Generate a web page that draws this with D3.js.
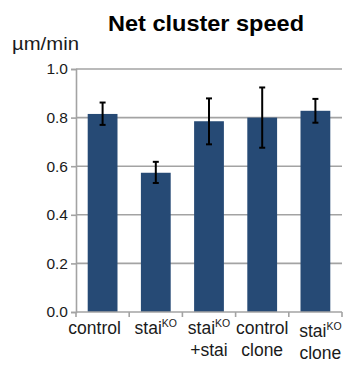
<!DOCTYPE html>
<html>
<head>
<meta charset="utf-8">
<script src="https://cdn.jsdelivr.net/npm/d3@7"></script>
<style>
  html, body { margin: 0; padding: 0; background: #fff; }
  svg { display: block; font-family: Arial, "Liberation Sans", sans-serif; }
</style>
</head>
<body>
<svg id="chart" width="347" height="365"></svg>
<script>
// Net cluster speed per condition (µm/min), mean with error bar ends
const categories = ["control", "staiKO", "staiKO+stai", "control clone", "staiKO clone"];
const speeds     = [0.815, 0.573, 0.785, 0.800, 0.828];
const errLow     = [0.770, 0.531, 0.690, 0.676, 0.779];
const errHigh    = [0.862, 0.618, 0.879, 0.924, 0.877];
const yTicks     = [0.0, 0.2, 0.4, 0.6, 0.8, 1.0];
// Label lines: [text, superscript] pairs per line
const labelLines = [
  [["control", ""]],
  [["stai", "KO"]],
  [["stai", "KO"], ["+stai", ""]],
  [["control", ""], ["clone", ""]],
  [["stai", "KO"], ["clone", ""]]
];

const svg = d3.select("#chart");
const plotLeft = 76, plotRight = 342, plotTop = 69, plotBottom = 312;

const x = d3.scaleBand().domain(categories).range([plotLeft, plotRight])
  .paddingInner(0.44).paddingOuter(0.22);
const y = d3.scaleLinear().domain([0, 1]).range([plotBottom, plotTop]);

const gridColor = "#a3a3a3";

// horizontal gridlines
svg.append("g").selectAll("line").data(yTicks.filter(d => d > 0)).join("line")
  .attr("x1", plotLeft).attr("x2", plotRight)
  .attr("y1", d => y(d)).attr("y2", d => y(d))
  .attr("stroke", gridColor).attr("stroke-width", 1.6);

// y axis
const yAxis = d3.axisLeft(y).tickValues(yTicks).tickFormat(d3.format(".1f"))
  .tickSize(5).tickPadding(3);
const gy = svg.append("g").attr("transform", `translate(${plotLeft},0)`).call(yAxis);
gy.select(".domain").attr("stroke", gridColor).attr("stroke-width", 1.6);
gy.selectAll(".tick line").attr("stroke", gridColor).attr("stroke-width", 1.6);
gy.selectAll(".tick text").attr("font-size", 15.5).attr("fill", "#1a1a1a")
  .attr("font-family", "Arial, 'Liberation Sans', sans-serif");

// bars
svg.append("g").selectAll("rect").data(categories).join("rect")
  .attr("x", d => x(d)).attr("width", x.bandwidth())
  .attr("y", (d, i) => y(speeds[i]))
  .attr("height", (d, i) => y(0) - y(speeds[i]))
  .attr("fill", "#264a75");

// x axis with tick marks at category boundaries
const gx = svg.append("g");
gx.append("line").attr("x1", plotLeft).attr("x2", plotRight)
  .attr("y1", y(0)).attr("y2", y(0))
  .attr("stroke", gridColor).attr("stroke-width", 1.6);
const step = x.step();
const bounds = d3.range(categories.length + 1).map(i => x(categories[0]) - step * x.paddingInner() / 2 + i * step);
gx.selectAll("line.tk").data(bounds).join("line").attr("class", "tk")
  .attr("x1", d => d).attr("x2", d => d)
  .attr("y1", y(0)).attr("y2", y(0) + 5)
  .attr("stroke", gridColor).attr("stroke-width", 1.6);

// error bars
const eb = svg.append("g").attr("stroke", "#000").attr("stroke-width", 2);
categories.forEach((c, i) => {
  const cx = x(c) + x.bandwidth() / 2;
  eb.append("line").attr("x1", cx).attr("x2", cx)
    .attr("y1", y(errLow[i])).attr("y2", y(errHigh[i]));
  [errLow[i], errHigh[i]].forEach(v => {
    eb.append("line").attr("x1", cx - 3).attr("x2", cx + 3)
      .attr("y1", y(v)).attr("y2", y(v));
  });
});

// category labels; outer labels sit slightly outward so they don't crowd
const labelShift = i => (i === 0 ? -8 : i === categories.length - 1 ? 5 : 0);
const lab = svg.append("g").attr("fill", "#1a1a1a").attr("font-size", 17.5)
  .attr("text-anchor", "middle");
categories.forEach((c, i) => {
  const cx = x(c) + x.bandwidth() / 2 + labelShift(i);
  const lowered = i === categories.length - 1 ? 3 : 0;
  labelLines[i].forEach((ln, j) => {
    const t = lab.append("text").attr("x", cx).attr("y", 334 + lowered + j * 22);
    t.append("tspan").text(ln[0]);
    if (ln[1]) {
      t.append("tspan").attr("font-size", 10.5).attr("dy", -7).text(ln[1]);
    }
  });
});

// unit label
svg.append("text").attr("x", 12).attr("y", 50).attr("font-size", 17.5)
  .attr("textLength", 67).attr("lengthAdjust", "spacingAndGlyphs")
  .attr("fill", "#1a1a1a").text("µm/min");

// title
svg.append("text").attr("x", 206).attr("y", 31).attr("text-anchor", "middle")
  .attr("font-size", 22).attr("font-weight", "bold").attr("fill", "#000")
  .attr("textLength", 196).attr("lengthAdjust", "spacingAndGlyphs")
  .text("Net cluster speed");
</script>
</body>
</html>
